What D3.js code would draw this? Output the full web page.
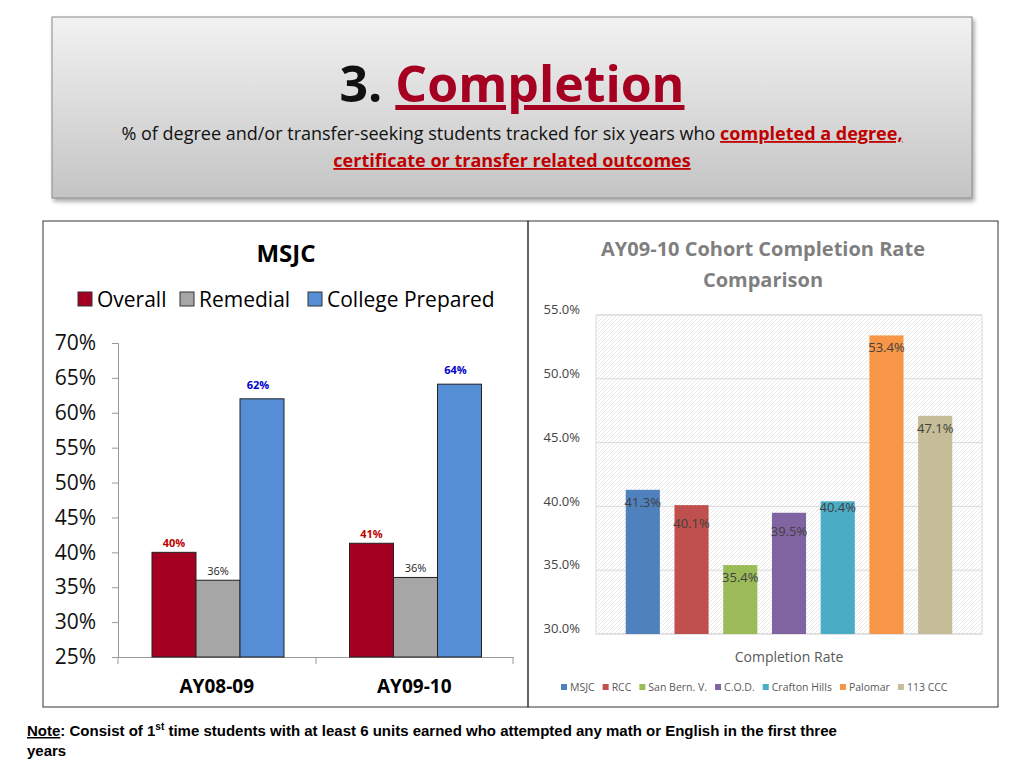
<!DOCTYPE html>
<html lang='en'>
<head>
  <meta charset='UTF-8'>
  <title>Completion</title>
  <script src='https://d3js.org/d3.v7.min.js'></script>
  <style>
    body { margin: 0; background: #fff; }
    svg { display: block; }
  </style>
</head>
<body>
<div id='main'></div>
<script>
  // left chart data (MSJC)
  const years = ['AY08-09', 'AY09-10']
  const groups = ['Overall', 'Remedial', 'College Prepared']
  const overall = [40.0, 41.3]
  const remedial = [36.0, 36.4]
  const prepared = [62.0, 64.1]
  const leftLabels = [['40%', '36%', '62%'], ['41%', '36%', '64%']]
  const leftTicks = [25, 30, 35, 40, 45, 50, 55, 60, 65, 70]

  // right chart data (comparison)
  const colleges = ['MSJC', 'RCC', 'San Bern. V.', 'C.O.D.', 'Crafton Hills', 'Palomar', '113 CCC']
  const rates = [41.3, 40.1, 35.4, 39.5, 40.4, 53.4, 47.1]
  const rightTicks = [30, 35, 40, 45, 50, 55]

  const font = "'Open Sans', 'DejaVu Sans', sans-serif"
  const svg = d3.select('#main').append('svg').attr('width', 1024).attr('height', 768)
  const defs = svg.append('defs')

  // header
  const hg = defs.append('linearGradient').attr('id', 'hdr').attr('x1', 0).attr('y1', 0).attr('x2', 0).attr('y2', 1)
  hg.append('stop').attr('offset', '0%').attr('stop-color', '#f2f2f2')
  hg.append('stop').attr('offset', '100%').attr('stop-color', '#c4c4c4')
  const sh = defs.append('filter').attr('id', 'shadow')
  sh.append('feDropShadow').attr('dx', 2).attr('dy', 3).attr('stdDeviation', 2).attr('flood-opacity', 0.35)
  svg.append('rect').attr('x', 52).attr('y', 17).attr('width', 920).attr('height', 181)
    .attr('fill', 'url(#hdr)').attr('stroke', '#888').attr('filter', 'url(#shadow)')

  const title = svg.append('text').attr('x', 512).attr('y', 102).attr('text-anchor', 'middle')
    .style('font-family', font).style('font-size', '50px').style('font-weight', 'bold')
  title.append('tspan').attr('fill', '#111').text('3. ')
  title.append('tspan').attr('fill', '#a50021').attr('text-decoration', 'underline').text('Completion')

  const sub = svg.append('text').attr('x', 512).attr('y', 140).attr('text-anchor', 'middle')
    .style('font-family', font).style('font-size', '18px')
  sub.append('tspan').attr('fill', '#111').text('% of degree and/or transfer-seeking students tracked for six years who ')
  sub.append('tspan').attr('fill', '#c00000').attr('font-weight', 'bold').attr('text-decoration', 'underline')
    .text('completed a degree,')
  svg.append('text').attr('x', 512).attr('y', 167).attr('text-anchor', 'middle')
    .style('font-family', font).style('font-size', '18px').style('font-weight', 'bold')
    .attr('fill', '#c00000').attr('text-decoration', 'underline').text('certificate or transfer related outcomes')

  // panel frames
  svg.append('rect').attr('x', 43).attr('y', 221).attr('width', 485).attr('height', 486)
    .attr('fill', 'none').attr('stroke', '#333')
  svg.append('rect').attr('x', 528).attr('y', 221).attr('width', 470).attr('height', 486)
    .attr('fill', 'none').attr('stroke', '#333')

  // ---------- left chart ----------
  const leftColors = ['#a50021', '#a6a6a6', '#558ed5']
  svg.append('text').attr('x', 286).attr('y', 262).attr('text-anchor', 'middle')
    .style('font-family', font).style('font-size', '24px').style('font-weight', 'bold').text('MSJC')

  const legendX = [78, 180, 308]
  groups.forEach((g, i) => {
    svg.append('rect').attr('x', legendX[i]).attr('y', 292).attr('width', 14).attr('height', 14)
      .attr('fill', leftColors[i]).attr('stroke', '#333')
    svg.append('text').attr('x', legendX[i] + 19).attr('y', 307)
      .style('font-family', font).style('font-size', '21px').text(g)
  })

  const ly = d3.scaleLinear().domain([25, 70]).range([657, 343])
  const lx = d3.scaleBand().domain(years).range([118, 513])
  const lsub = d3.scaleBand().domain(groups).range([34, 166])

  const lAxis = svg.append('g').attr('transform', 'translate(118,0)')
    .call(d3.axisLeft(ly).tickValues(leftTicks).tickSize(6).tickFormat(d => d + '%'))
  lAxis.select('.domain').attr('stroke', '#999')
  lAxis.selectAll('.tick line').attr('stroke', '#999')
  lAxis.selectAll('text').attr('x', -22).style('font-family', font).style('font-size', '21px').attr('fill', '#111')

  const xAxis = svg.append('g').attr('transform', 'translate(0,657)')
    .call(d3.axisBottom(lx).tickSize(0).tickFormat(''))
  xAxis.select('.domain').attr('stroke', '#999')
  ;[118, 316, 513].forEach(x => svg.append('line').attr('x1', x).attr('x2', x).attr('y1', 657).attr('y2', 664).attr('stroke', '#999'))
  years.forEach(y => svg.append('text').attr('x', lx(y) + lx.bandwidth() / 2).attr('y', 693)
    .attr('text-anchor', 'middle').style('font-family', font).style('font-size', '19px').style('font-weight', 'bold').text(y))

  const series = [overall, remedial, prepared]
  const labelColors = ['#c00000', '#222', '#0000cc']
  years.forEach((yr, j) => {
    groups.forEach((g, i) => {
      const v = series[i][j]
      const x = lx(yr) + lsub(g)
      svg.append('rect').attr('x', x).attr('y', ly(v)).attr('width', lsub.bandwidth())
        .attr('height', ly(25) - ly(v)).attr('fill', leftColors[i]).attr('stroke', '#222').attr('stroke-width', 1)
      svg.append('text').attr('x', x + lsub.bandwidth() / 2 + (i === 2 ? -4 : 0)).attr('y', ly(v) - (i === 2 ? 10 : 5))
        .attr('text-anchor', 'middle').style('font-family', font).style('font-size', '11px')
        .style('font-weight', i === 1 ? 'normal' : 'bold').attr('fill', labelColors[i]).text(leftLabels[j][i])
    })
  })

  // ---------- right chart ----------
  const rightColors = ['#4f81bd', '#c0504d', '#9bbb59', '#8064a2', '#4bacc6', '#f79646', '#c4bd97']
  svg.append('text').attr('x', 763).attr('y', 256).attr('text-anchor', 'middle').attr('fill', '#7f7f7f')
    .style('font-family', font).style('font-size', '20px').style('font-weight', 'bold').text('AY09-10 Cohort Completion Rate')
  svg.append('text').attr('x', 763).attr('y', 287).attr('text-anchor', 'middle').attr('fill', '#7f7f7f')
    .style('font-family', font).style('font-size', '20px').style('font-weight', 'bold').text('Comparison')

  const pat = defs.append('pattern').attr('id', 'hatch').attr('patternUnits', 'userSpaceOnUse')
    .attr('width', 4).attr('height', 4)
  pat.append('rect').attr('width', 4).attr('height', 4).attr('fill', '#fff')
  pat.append('path').attr('d', 'M-1,1 l2,-2 M0,4 l4,-4 M3,5 l2,-2').attr('stroke', '#e2e2e2').attr('stroke-width', 0.8)

  const ry = d3.scaleLinear().domain([30, 55]).range([634, 315])
  const rx = d3.scaleBand().domain(colleges).range([616, 962]).paddingInner(0.3).paddingOuter(0.2)
  svg.append('rect').attr('x', 596).attr('y', 315).attr('width', 386).attr('height', 319)
    .attr('fill', 'url(#hatch)').attr('stroke', '#d9d9d9')
  svg.append('g').selectAll('line').data(rightTicks).join('line')
    .attr('x1', 596).attr('x2', 982).attr('y1', d => ry(d)).attr('y2', d => ry(d)).attr('stroke', '#d9d9d9')

  const rAxis = svg.append('g').attr('transform', 'translate(596,0)')
    .call(d3.axisLeft(ry).tickValues(rightTicks).tickSize(0).tickFormat(d => d.toFixed(1) + '%'))
  rAxis.select('.domain').remove()
  rAxis.selectAll('text').attr('x', -16).attr('dy', '-0.1em').style('font-family', font).style('font-size', '13px').attr('fill', '#444')

  const nudge = [0, 6, 0, 6, -6, 0, 0]
  svg.append('g').selectAll('rect').data(colleges).join('rect')
    .attr('x', d => rx(d)).attr('y', (d, i) => ry(rates[i])).attr('width', rx.bandwidth())
    .attr('height', (d, i) => ry(30) - ry(rates[i])).attr('fill', (d, i) => rightColors[i])
  svg.append('g').selectAll('text').data(colleges).join('text')
    .attr('x', d => rx(d) + rx.bandwidth() / 2)
    .attr('y', (d, i) => ry(rates[i]) + 17 + nudge[i])
    .attr('text-anchor', 'middle').style('font-family', font).style('font-size', '13px').attr('fill', '#404040')
    .text((d, i) => rates[i].toFixed(1) + '%')

  svg.append('text').attr('x', 789).attr('y', 662).attr('text-anchor', 'middle').attr('fill', '#595959')
    .style('font-family', font).style('font-size', '14px').text('Completion Rate')

  let lxp = 561
  colleges.forEach((c, i) => {
    svg.append('rect').attr('x', lxp).attr('y', 684).attr('width', 6).attr('height', 6).attr('fill', rightColors[i])
    const t = svg.append('text').attr('x', lxp + 9).attr('y', 691).attr('fill', '#595959')
      .style('font-family', font).style('font-size', '10.5px').text(c)
    lxp += 9 + t.node().getComputedTextLength() + 8
  })

  // note
  const note = svg.append('text').attr('x', 27).attr('y', 736)
    .style('font-family', "'Liberation Sans', Arial, sans-serif").style('font-size', '15px').style('font-weight', 'bold')
  note.append('tspan').attr('text-decoration', 'underline').text('Note')
  note.append('tspan').text(': Consist of 1')
  note.append('tspan').attr('dy', -6).style('font-size', '10px').text('st')
  note.append('tspan').attr('dy', 6).text(' time students with at least 6 units earned who attempted any math or English in the first three')
  svg.append('text').attr('x', 27).attr('y', 756)
    .style('font-family', "'Liberation Sans', Arial, sans-serif").style('font-size', '15px').style('font-weight', 'bold').text('years')
</script>
</body>
</html>
